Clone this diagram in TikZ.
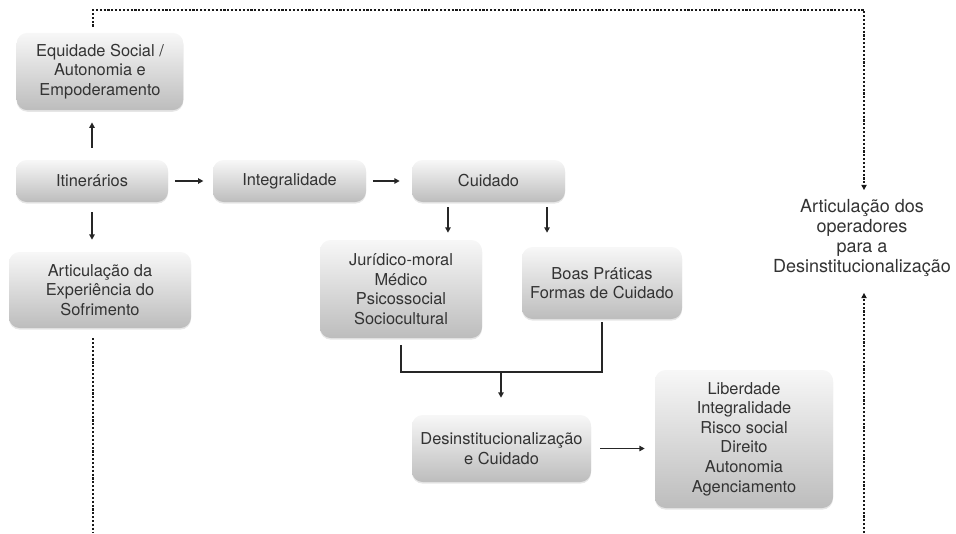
\documentclass[tikz,border=0pt]{standalone}
\usepackage{fontspec}
\setmainfont{TeX Gyre Heros}
\usetikzlibrary{arrows.meta, shadows}

\tikzset{
  caixa/.style={rounded corners=8pt, top color=black!3, bottom color=black!26,
    text=black!80, align=center, inner sep=0pt,
    font=\fontsize{12.3}{14.7}\selectfont,
    drop shadow={opacity=.2, shadow xshift=0pt, shadow yshift=-1.2pt}},
  seta/.style={-{Triangle[length=4pt,width=4pt]}, line width=1pt, draw=black!85},
  pontos/.style={line width=1.4pt, dash pattern=on 1.6pt off 1.3pt, draw=black!90}
}

\begin{document}
\begin{tikzpicture}[x=0.75pt, y=0.75pt]
\useasboundingbox (0,0) rectangle (956,533);

\path[every node/.style={caixa}]
(100,461.5) node[minimum width=125pt, minimum height=58pt] (equid)
{Equidade Social /\\Autonomia e\\Empoderamento}
(92,352) node[minimum width=114pt, minimum height=31.5pt] (itin) {Itinerários}
(100,243) node[minimum width=136.5pt, minimum height=57pt] (artic)
{Articulação da\\Experiência do\\Sofrimento}
(289.5,352) node[minimum width=114.75pt, minimum height=31.5pt] (integ) {Integralidade}
(488.5,352) node[minimum width=114.75pt, minimum height=31.5pt] (cuid) {Cuidado}
(401,244) node[minimum width=121.5pt, minimum height=73.5pt] (jur)
{Jurídico-moral\\Médico\\Psicossocial\\Sociocultural}
(602,250) node[minimum width=120pt, minimum height=54pt] (boas)
{Boas Práticas\\Formas de Cuidado}
(501.5,84.5) node[minimum width=134.25pt, minimum height=50.25pt] (desin)
{Desinstitucionalização\\e Cuidado}
(744,94) node[minimum width=133.5pt, minimum height=103.5pt] (liber)
{Liberdade\\Integralidade\\Risco social\\Direito\\Autonomia\\Agenciamento}
;

\node[align=center, inner sep=0pt, text=black!80, font=\fontsize{13.5}{15}\selectfont]
(oper) at (862,295) {Articulação dos\\operadores\\para a\\Desinstitucionalização};

\path (501,161) coordinate (junc)
(93,523) coordinate (ctopo) (864,523) coordinate (ctopod)
(93,0) coordinate (cbase) (864,0) coordinate (cbased);

\begin{scope}[seta]
\draw[shorten <=9pt, shorten >=9pt] (itin.north) -- (itin.north |- equid.south);
\draw[shorten <=7.5pt, shorten >=9pt] (itin.south) -- (itin.south |- artic.north);
\draw[shorten <=5pt, shorten >=7pt] (itin) -- (integ);
\draw[shorten <=5pt, shorten >=9pt] (integ) -- (cuid);
\draw[shorten <=3.75pt, shorten >=5.25pt] ([xshift=-30.4pt]cuid.south)
-- ([xshift=-30.4pt]cuid.south |- jur.north);
\draw[shorten <=3.75pt, shorten >=10.5pt] ([xshift=43.9pt]cuid.south)
-- ([xshift=43.9pt]cuid.south |- boas.north);
\draw[shorten >=12.75pt] (junc) -- (junc |- desin.north);
\draw[shorten <=6.75pt, shorten >=7.5pt] (desin.east) -- (desin.east -| liber.west);
\end{scope}

\draw[line width=1pt, draw=black!85, shorten <=5pt, shorten >=2pt]
(jur.south) -- (jur.south |- junc) -- (boas.south |- junc) -- (boas.south);

% ligacoes pontilhadas
\draw[pontos, -{Triangle[length=4pt,width=4pt]}, shorten >=6.75pt]
([yshift=4.5pt]equid.north -| ctopo) -- (ctopo) -- (ctopod) -- (ctopod |- oper.north);
\draw[pontos, shorten <=7.5pt] (artic.south -| cbase) -- (cbase);
\draw[pontos, -{Triangle[length=4pt,width=4pt]}, shorten >=12pt] (cbased) -- (cbased |- oper.south);

\end{tikzpicture}
\end{document}
